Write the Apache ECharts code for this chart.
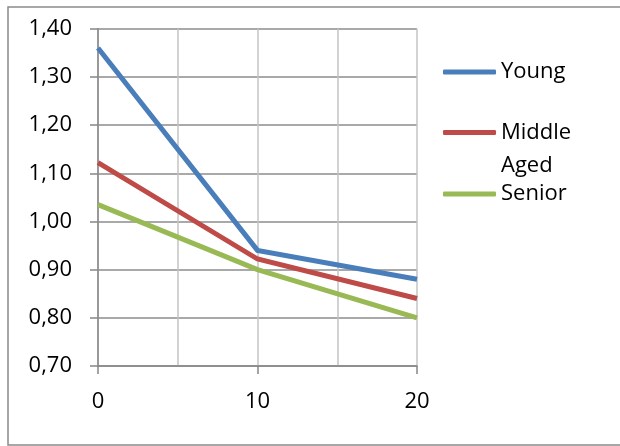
<!DOCTYPE html>
<html>
<head>
<meta charset="utf-8">
<script src="https://cdn.jsdelivr.net/npm/echarts@6/dist/echarts.min.js"></script>
<style>
  html, body { margin: 0; padding: 0; background: #fff; }
  #chart { width: 620px; height: 446px; }
</style>
</head>
<body>
<div id="chart"></div>
<script>
// Years on the x axis and the three age-group curves
const xValues = [0, 10, 20];
const young = [1.36, 0.94, 0.88];
const middleAged = [1.122, 0.922, 0.84];
const senior = [1.035, 0.90, 0.80];
const seriesNames = ['Young', 'Middle Aged', 'Senior'];
const seriesColors = ['#4A7EBB', '#BE4B48', '#98B954'];

const FONT = 'Open Sans';
const FS = 22;
const LH = 33;

const pairs = arr => xValues.map((x, i) => [x, arr[i]]);

const chart = echarts.init(document.getElementById('chart'), null, { renderer: 'canvas' });

function legendBlock(name, top, extra) {
  return Object.assign({
    orient: 'vertical',
    left: 443,
    top: top,
    padding: 0,
    itemWidth: 53,
    itemHeight: 5,
    itemGap: 0,
    icon: 'roundRect',
    selectedMode: false,
    data: [name],
    textStyle: { fontFamily: FONT, fontSize: FS, color: '#000', lineHeight: LH }
  }, extra || {});
}

// The two-word label keeps its first line level with the legend line:
// an empty first row balances the second row below it.
const twoLineLabel = {
  formatter: () => '{gap| }\n{t|Middle}\n{t|Aged}',
  textStyle: {
    fontFamily: FONT, fontSize: FS, color: '#000', lineHeight: LH,
    rich: {
      gap: { fontFamily: FONT, fontSize: FS, lineHeight: LH, height: LH },
      t: { fontFamily: FONT, fontSize: FS, color: '#000', lineHeight: LH }
    }
  }
};

chart.setOption({
  animation: false,
  backgroundColor: '#fff',
  graphic: [{
    type: 'rect',
    shape: { x: 8, y: 7, width: 640, height: 438 },
    style: { fill: 'none', stroke: '#8a8a8a', lineWidth: 1.5 },
    silent: true
  }],
  grid: { left: 98, right: 203, top: 28.7, bottom: 80, containLabel: false },
  legend: [
    legendBlock(seriesNames[0], 55.5),
    legendBlock(seriesNames[1], 83, twoLineLabel),
    legendBlock(seriesNames[2], 177.5)
  ],
  xAxis: {
    type: 'value',
    min: 0,
    max: 20,
    interval: 10,
    axisLine: { show: true, onZero: false, lineStyle: { color: '#868686', width: 1.5 } },
    axisTick: { show: true, length: 8, lineStyle: { color: '#868686', width: 1.5 } },
    axisLabel: { margin: 25, fontFamily: FONT, fontSize: FS, color: '#000' },
    splitLine: { show: true, lineStyle: { color: '#c4c4c4', width: 1.5 } },
    minorTick: { show: false, splitNumber: 2 },
    minorSplitLine: { show: true, lineStyle: { color: '#c4c4c4', width: 1.5 } }
  },
  yAxis: {
    type: 'value',
    min: 0.7,
    max: 1.4,
    interval: 0.1,
    axisLine: { show: true, lineStyle: { color: '#868686', width: 1.5 } },
    axisTick: { show: true, length: 8, lineStyle: { color: '#868686', width: 1.5 } },
    axisLabel: {
      margin: 26,
      fontFamily: FONT,
      fontSize: FS,
      color: '#000',
      formatter: v => v.toFixed(2).replace('.', ',')
    },
    splitLine: { show: true, lineStyle: { color: '#8c8c8c', width: 1.5 } }
  },
  series: [
    { name: seriesNames[0], data: pairs(young) },
    { name: seriesNames[1], data: pairs(middleAged) },
    { name: seriesNames[2], data: pairs(senior) }
  ].map((s, i) => Object.assign(s, {
    type: 'line',
    showSymbol: false,
    symbol: 'none',
    color: seriesColors[i],
    lineStyle: { width: 5, color: seriesColors[i], cap: 'butt', join: 'miter' },
    itemStyle: { color: seriesColors[i] }
  }))
});
</script>
</body>
</html>
